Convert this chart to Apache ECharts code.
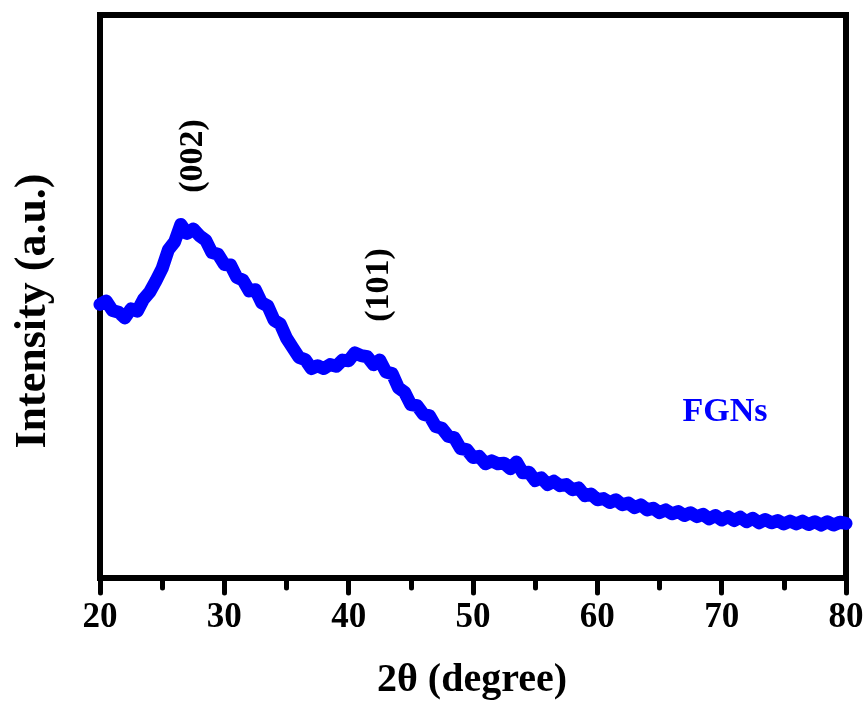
<!DOCTYPE html>
<html>
<head>
<meta charset="utf-8">
<script src="https://cdn.jsdelivr.net/npm/echarts@6/dist/echarts.min.js"></script>
<style>
  html, body { margin: 0; padding: 0; background: #ffffff; }
  #chart { width: 867px; height: 711px; }
</style>
</head>
<body>
<div id="chart"></div>
<script>
// XRD pattern of FGNs: diffraction angle 2θ (degree) and intensity (a.u.)
const twoTheta = [
  20.0, 20.5, 21.0, 21.5, 22.0, 22.5, 23.0, 23.5, 24.0, 24.5,
  25.0, 25.5, 26.0, 26.5, 27.0, 27.5, 28.0, 28.5, 29.0, 29.5,
  30.0, 30.5, 31.0, 31.5, 32.0, 32.5, 33.0, 33.5, 34.0, 34.5,
  35.0, 35.5, 36.0, 36.5, 37.0, 37.5, 38.0, 38.5, 39.0, 39.5,
  40.0, 40.5, 41.0, 41.5, 42.0, 42.5, 43.0, 43.5, 44.0, 44.5,
  45.0, 45.5, 46.0, 46.5, 47.0, 47.5, 48.0, 48.5, 49.0, 49.5,
  50.0, 50.5, 51.0, 51.5, 52.0, 52.5, 53.0, 53.5, 54.0, 54.5,
  55.0, 55.5, 56.0, 56.5, 57.0, 57.5, 58.0, 58.5, 59.0, 59.5,
  60.0, 60.5, 61.0, 61.5, 62.0, 62.5, 63.0, 63.5, 64.0, 64.5,
  65.0, 65.5, 66.0, 66.5, 67.0, 67.5, 68.0, 68.5, 69.0, 69.5,
  70.0, 70.5, 71.0, 71.5, 72.0, 72.5, 73.0, 73.5, 74.0, 74.5,
  75.0, 75.5, 76.0, 76.5, 77.0, 77.5, 78.0, 78.5, 79.0, 79.5,
  80.0
];
const intensity = [
  486, 492, 475, 472, 462, 478, 474, 495, 508, 528,
  550, 583, 597, 628, 612, 620, 608, 600, 578, 575,
  557, 556, 534, 529, 510, 512, 489, 483, 458, 451,
  426, 409, 392, 388, 372, 377, 372, 379, 376, 387,
  386, 400, 395, 393, 379, 387, 366, 363, 338, 330,
  308, 306, 291, 288, 269, 266, 252, 249, 230, 228,
  214, 216, 203, 208, 203, 204, 194, 206, 187, 188,
  173, 178, 166, 172, 164, 166, 157, 160, 146, 149,
  139, 141, 134, 139, 130, 133, 125, 130, 121, 124,
  116, 121, 114, 118, 111, 116, 109, 113, 105, 111,
  103, 109, 102, 108, 100, 106, 98, 104, 98, 102,
  96, 101, 96, 101, 95, 100, 94, 100, 94, 99,
  97
];
const xTicks = [20, 30, 40, 50, 60, 70, 80];
const peakLabels = ['(002)', '(101)'];
const sampleName = 'FGNs';
const xTitle = '2θ (degree)';
const yTitle = 'Intensity (a.u.)';

const serif = '"Liberation Serif", "Times New Roman", "DejaVu Serif", serif';

const chart = echarts.init(document.getElementById('chart'), null, { renderer: 'canvas' });

chart.setOption({
  backgroundColor: '#ffffff',
  animation: false,
  grid: {
    left: 100, right: 21, top: 15, bottom: 133,
    show: true, borderColor: '#000000', borderWidth: 6,
    containLabel: false
  },
  xAxis: {
    type: 'value',
    min: 20, max: 80, interval: 10,
    axisLine: { show: true, onZero: false, lineStyle: { color: '#000', width: 6 } },
    axisTick: { show: true, inside: false, length: 15, lineStyle: { color: '#000', width: 5, cap: 'round' } },
    minorTick: { show: true, splitNumber: 2, length: 10, lineStyle: { color: '#000', width: 5, cap: 'round' } },
    splitLine: { show: false },
    axisLabel: {
      margin: 22,
      color: '#000', fontFamily: serif, fontWeight: 'bold', fontSize: 35,
      formatter: v => (xTicks.indexOf(v) >= 0 ? String(v) : '')
    }
  },
  yAxis: {
    type: 'value',
    min: 0, max: 1000,
    axisLine: { show: true, lineStyle: { color: '#000', width: 6 } },
    axisTick: { show: false },
    axisLabel: { show: false },
    splitLine: { show: false }
  },
  series: [{
    type: 'line',
    data: twoTheta.map((t, i) => [t, intensity[i]]),
    showSymbol: false,
    smooth: false,
    lineStyle: { color: '#0000ff', width: 13, cap: 'round', join: 'round' },
    z: 1
  }],
  graphic: [
    {
      type: 'text', x: 34, y: 311, rotation: Math.PI / 2,
      style: {
        text: yTitle, fill: '#000', font: 'bold 44px ' + serif,
        align: 'center', verticalAlign: 'middle'
      }
    },
    {
      type: 'text', x: 472, y: 681,
      style: {
        text: xTitle, fill: '#000', font: 'bold 40px ' + serif,
        align: 'center', verticalAlign: 'middle'
      }
    },
    {
      type: 'text', x: 193, y: 156, rotation: Math.PI / 2,
      style: {
        text: peakLabels[0], fill: '#000', font: 'bold 34px ' + serif,
        align: 'center', verticalAlign: 'middle'
      }
    },
    {
      type: 'text', x: 379, y: 285, rotation: Math.PI / 2,
      style: {
        text: peakLabels[1], fill: '#000', font: 'bold 34px ' + serif,
        align: 'center', verticalAlign: 'middle'
      }
    },
    {
      type: 'text', x: 725, y: 412,
      style: {
        text: sampleName, fill: '#0000ff', font: 'bold 34px ' + serif,
        align: 'center', verticalAlign: 'middle'
      }
    }
  ]
});
</script>
</body>
</html>
